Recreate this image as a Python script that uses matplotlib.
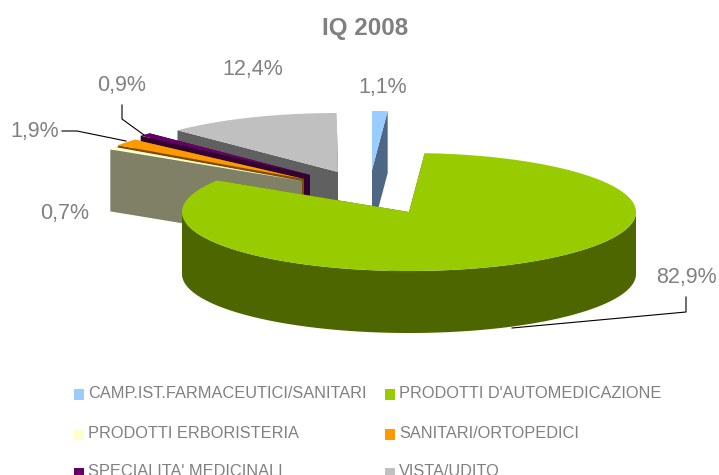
import matplotlib
matplotlib.use('Agg')
import matplotlib.pyplot as plt
import numpy as np
from matplotlib.patches import Polygon, Rectangle

plt.rcParams['font.family'] = ['Liberation Sans', 'DejaVu Sans']

# dati
names = ['CAMP.IST.FARMACEUTICI/SANITARI', "PRODOTTI D'AUTOMEDICAZIONE",
         'PRODOTTI ERBORISTERIA', 'SANITARI/ORTOPEDICI',
         "SPECIALITA' MEDICINALI", 'VISTA/UDITO']
shares = [1.1, 82.9, 0.7, 1.9, 0.9, 12.4]
labels = ['1,1%', '82,9%', '0,7%', '1,9%', '0,9%', '12,4%']

colors = ['#99ccff', '#99cc00', '#ffffcc', '#ff9900', '#660066', '#c0c0c0']
dark = ['#4d6785', '#4d6600', '#808066', '#804d00', '#330033', '#606060']
# centro di ogni fetta esplosa (pixel)
centers = [(372, 170), (409, 212), (302, 181), (304, 179), (310, 175), (338, 172)]
RX, RY, DEPTH = 227, 59, 62


def rim(cx, cy, a0, a1, off=0):
    # angoli in gradi, orari a partire dall'alto, come nelle torte di Excel
    t = np.radians(np.linspace(a0, a1, max(int(abs(a1 - a0) * 2), 2)))
    return np.column_stack([cx + RX * np.sin(t), cy - RY * np.cos(t) + off])


def draw_slice(ax, i, a0, a1):
    cx, cy = centers[i]
    apex = np.array([[cx, cy]])
    down = np.array([0, DEPTH])
    # facce di taglio
    for a in (a0, a1):
        p = rim(cx, cy, a, a)[0]
        ax.add_patch(Polygon([apex[0], p, p + down, apex[0] + down], fc=dark[i], ec='none'))
    # parete esterna, solo la parte davanti
    w0, w1 = max(a0, 90), min(a1, 270)
    if w1 > w0:
        top = rim(cx, cy, w0, w1)
        ax.add_patch(Polygon(np.vstack([top, (top + down)[::-1]]), fc=dark[i], ec='none'))
    ax.add_patch(Polygon(np.vstack([apex, rim(cx, cy, a0, a1)]), fc=colors[i], ec='none'))


fig = plt.figure(figsize=(7.19, 4.75), dpi=100)
ax = fig.add_axes([0, 0, 1, 1])
ax.set_xlim(0, 719)
ax.set_ylim(475, 0)
ax.axis('off')

edges = np.concatenate([[0], np.cumsum(shares)]) * 3.6
for i in [0, 5, 4, 3, 2, 1]:
    draw_slice(ax, i, edges[i], edges[i + 1])

# linee guida
ax.plot([62, 77, 126], [131, 131, 141], color='black', lw=0.8)
ax.plot([122, 122, 144], [105, 119, 135], color='black', lw=0.8)
ax.plot([686, 686, 512], [297, 312, 328], color='black', lw=0.8)

label_pos = [(383, 88), (686, 277), (65, 213), (35, 132), (122, 86), (253, 69)]
for txt, (x, y) in zip(labels, label_pos):
    ax.text(x, y, txt, fontsize=15.5, color='#808080', ha='center', va='center')

ax.text(365, 29, 'IQ 2008', fontsize=17.4, fontweight='bold', color='#808080',
        ha='center', va='center')

# legenda
leg_x = [74, 385]
leg_y = [393, 433, 472]
for i, name in enumerate(names):
    x = leg_x[i % 2]
    y = leg_y[i // 2]
    ax.add_patch(Rectangle((x, y - 4), 10, 11, fc=colors[i], ec='none'))
    ax.text(x + 14, y, name, fontsize=11.8, color='#808080', ha='left', va='center')

fig.savefig('out.png', dpi=100)
